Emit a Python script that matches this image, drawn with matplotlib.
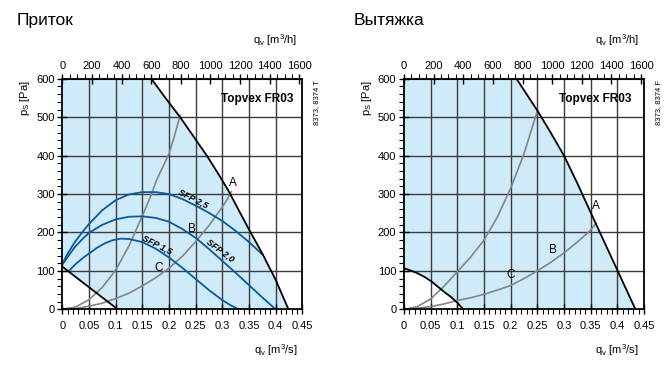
import matplotlib
matplotlib.use("Agg")
import matplotlib.pyplot as plt
from matplotlib.ticker import MultipleLocator

plt.rcParams['font.family'] = ['Liberation Sans', 'DejaVu Sans']

# ---------------- data ----------------
# Left panel: "Приток"
L_limit_q = [0.167, 0.194, 0.221, 0.246, 0.271, 0.291, 0.311, 0.330, 0.350, 0.375, 0.400, 0.424]
L_limit_p = [600, 549, 500, 450, 400, 356, 310, 260, 208, 145, 77, 0]
L_min_q = [0.0, 0.1038]
L_min_p = [111, 0]
L_sysA_q = [0.0, 0.025, 0.05, 0.075, 0.10, 0.125, 0.15, 0.165, 0.177, 0.19, 0.20, 0.21, 0.221]
L_sysA_p = [0, 6, 25, 57, 102, 165, 243, 292, 337, 375, 405, 450, 505]
L_sysB_q = [0.0, 0.025, 0.05, 0.075, 0.10, 0.125, 0.15, 0.175, 0.20, 0.225, 0.25, 0.275, 0.30, 0.31, 0.317]
L_sysB_p = [0, 2, 8, 16, 28, 42, 61, 82, 107, 138, 176, 218, 266, 288, 306]
SFP25_q = [0.0, 0.01, 0.024, 0.04, 0.05, 0.075, 0.10, 0.125, 0.15, 0.175, 0.20,
           0.225, 0.25, 0.275, 0.30, 0.325, 0.35, 0.375]
SFP25_p = [118, 145, 176, 205, 222, 258, 284, 299, 305, 305, 300,
           287, 270, 251, 230, 204, 175, 143]
SFP20_q = [0.0, 0.01, 0.024, 0.04, 0.05, 0.075, 0.10, 0.125, 0.15, 0.175, 0.20,
           0.225, 0.25, 0.275, 0.30, 0.325, 0.35, 0.375, 0.40]
SFP20_p = [116, 136, 163, 186, 199, 220, 234, 241, 242, 238, 228,
           209, 186, 157, 126, 95, 63, 31, 0]
SFP15_q = [0.014, 0.025, 0.04, 0.05, 0.065, 0.08, 0.095, 0.11, 0.125, 0.15, 0.175,
           0.20, 0.225, 0.25, 0.275, 0.30, 0.315, 0.331]
SFP15_p = [102, 118, 135, 145, 160, 172, 180, 184, 183, 175, 158,
           135, 108, 79, 50, 24, 11, 0]
L_labels = ['A', 'B', 'C']
L_label_q = [0.3195, 0.244, 0.180]
L_label_p = [330, 208, 107]
SFP_names = ['SFP 2,5', 'SFP 2,0', 'SFP 1,5']
SFP_label_q = [0.246, 0.296, 0.177]
SFP_label_p = [289, 154, 167]
SFP_label_rot = [-27, -37, -27]

# Right panel: "Вытяжка"
R_limit_q = [0.211, 0.2507, 0.275, 0.300, 0.325, 0.350, 0.375, 0.400, 0.434]
R_limit_p = [600, 516, 460, 400, 328, 252, 177, 102, 0]
R_min_q = [0.0, 0.0125, 0.025, 0.0375, 0.05, 0.0625, 0.0775, 0.09, 0.10, 0.111]
R_min_p = [107, 101, 94, 85, 74, 60, 43, 30, 17, 0]
R_sysA_q = [0.0, 0.025, 0.05, 0.075, 0.10, 0.125, 0.15, 0.175, 0.20, 0.225, 0.25]
R_sysA_p = [0, 7, 27, 60, 98, 136, 180, 240, 315, 405, 516]
R_sysB_q = [0.0, 0.025, 0.05, 0.075, 0.10, 0.125, 0.15, 0.175, 0.20, 0.225,
            0.25, 0.275, 0.30, 0.325, 0.35, 0.36]
R_sysB_p = [0, 3, 7, 14, 23, 30, 39, 50, 62, 80,
            100, 122, 147, 175, 206, 224]
R_labels = ['A', 'B', 'C']
R_label_q = [0.360, 0.280, 0.2006]
R_label_p = [269, 154, 89]

titles = ['Приток', 'Вытяжка']
codes = ['8373, 8374 T', '8373, 8374 F']
model = 'Topvex FR03'

x_ticks = [0, 0.05, 0.1, 0.15, 0.2, 0.25, 0.3, 0.35, 0.4, 0.45]
x_ticklabels = ['0', '0.05', '0.1', '0.15', '0.2', '0.25', '0.3', '0.35', '0.4', '0.45']
y_ticks = [0, 100, 200, 300, 400, 500, 600]
top_ticks = [0, 200, 400, 600, 800, 1000, 1200, 1400, 1600]

FILL = '#cfebfa'
GRID = '#3c3c3c'
BLUE = '#0b5a9c'
GREY = '#858585'

W, H = 669, 371
fig = plt.figure(figsize=(W / 100, H / 100), dpi=100)


def panel(x0px, limq, limp, minq, minp, sysA, sysB, labels, lq, lp, title, title_x, code, tx):
    ax = fig.add_axes([x0px / W, 1 - 309.3 / H, 240 / W, 230.5 / H])
    ax.set_xlim(0, 0.45)
    ax.set_ylim(0, 600)
    # fill of operating area
    poly_q = list(minq) + list(limq[::-1]) + [0.0]
    poly_p = list(minp) + list(limp[::-1]) + [600]
    ax.fill(poly_q, poly_p, color=FILL, lw=0, zorder=0)
    # grid
    for q in x_ticks[1:-1]:
        ax.axvline(q, color=GRID, lw=1.0, zorder=1)
    for p in y_ticks[1:-1]:
        ax.axhline(p, color=GRID, lw=1.0, zorder=1)
    # system curves
    for (qq, pp) in (sysA, sysB):
        ax.plot(qq, pp, color=GREY, lw=1.2, zorder=2, solid_joinstyle='round')
    # limits
    ax.plot(limq, limp, color='black', lw=1.3, zorder=4, solid_joinstyle='round')
    ax.plot(minq, minp, color='black', lw=1.3, zorder=4, solid_joinstyle='round')
    for t, q, p in zip(labels, lq, lp):
        ax.text(q, p, t, fontsize=8.5, ha='center', va='center', zorder=5)
    ax.text(tx, 548, model, fontsize=8.5, fontweight='bold', ha='center', va='center', zorder=5)
    # ticks
    ax.set_xticks(x_ticks)
    ax.set_xticklabels(x_ticklabels)
    ax.set_yticks(y_ticks)
    ax.xaxis.set_minor_locator(MultipleLocator(0.01))
    ax.yaxis.set_minor_locator(MultipleLocator(20))
    ax.tick_params(which='major', direction='inout', length=7, width=1.0, labelsize=8, pad=2)
    ax.tick_params(which='minor', direction='out', length=3.5, width=0.8)
    ax.tick_params(axis='x', which='major', pad=5)
    for s in ax.spines.values():
        s.set_linewidth(1.3)
        s.set_zorder(6)
    sec = ax.secondary_xaxis('top', functions=(lambda q: q * 3600, lambda v: v / 3600))
    sec.set_xticks(top_ticks)
    sec.xaxis.set_minor_locator(MultipleLocator(50))
    sec.tick_params(which='major', direction='inout', length=7, width=1.0, labelsize=8, pad=2)
    sec.tick_params(which='minor', direction='out', length=3.5, width=0.8)
    # texts in figure coords
    fig.text(title_x / W, 1 - 25 / H, title, fontsize=12.5, ha='left', va='baseline')
    fig.text((x0px + 235) / W, 1 - 40 / H, r'q$_\mathregular{v}$ [m$^\mathregular{3}$/h]',
             fontsize=8, ha='right', va='center')
    fig.text((x0px + 235) / W, 1 - 350 / H, r'q$_\mathregular{v}$ [m$^\mathregular{3}$/s]',
             fontsize=8, ha='right', va='center')
    fig.text((x0px - 37) / W, 1 - 80 / H, r'p$_\mathregular{S}$ [Pa]', fontsize=8,
             rotation=90, ha='center', va='top')
    fig.text((x0px + 254.5) / W, 1 - 80 / H, code, fontsize=5.5, rotation=90,
             ha='center', va='top')
    return ax


axL = panel(62.3, L_limit_q, L_limit_p, L_min_q, L_min_p,
            (L_sysA_q, L_sysA_p), (L_sysB_q, L_sysB_p),
            L_labels, L_label_q, L_label_p, titles[0], 16.5, codes[0], 0.365)
for qq, pp in ((SFP25_q, SFP25_p), (SFP20_q, SFP20_p), (SFP15_q, SFP15_p)):
    axL.plot(qq, pp, color=BLUE, lw=1.3, zorder=3, solid_joinstyle='round')
for t, q, p, r in zip(SFP_names, SFP_label_q, SFP_label_p, SFP_label_rot):
    axL.text(q, p, t, fontsize=6.5, fontweight='bold', fontstyle='italic',
             rotation=r, ha='center', va='center', zorder=5, rotation_mode='anchor')

axR = panel(404.0, R_limit_q, R_limit_p, R_min_q, R_min_p,
            (R_sysA_q, R_sysA_p), (R_sysB_q, R_sysB_p),
            R_labels, R_label_q, R_label_p, titles[1], 353.5, codes[1], 0.359)

fig.savefig('out.png', dpi=100)
